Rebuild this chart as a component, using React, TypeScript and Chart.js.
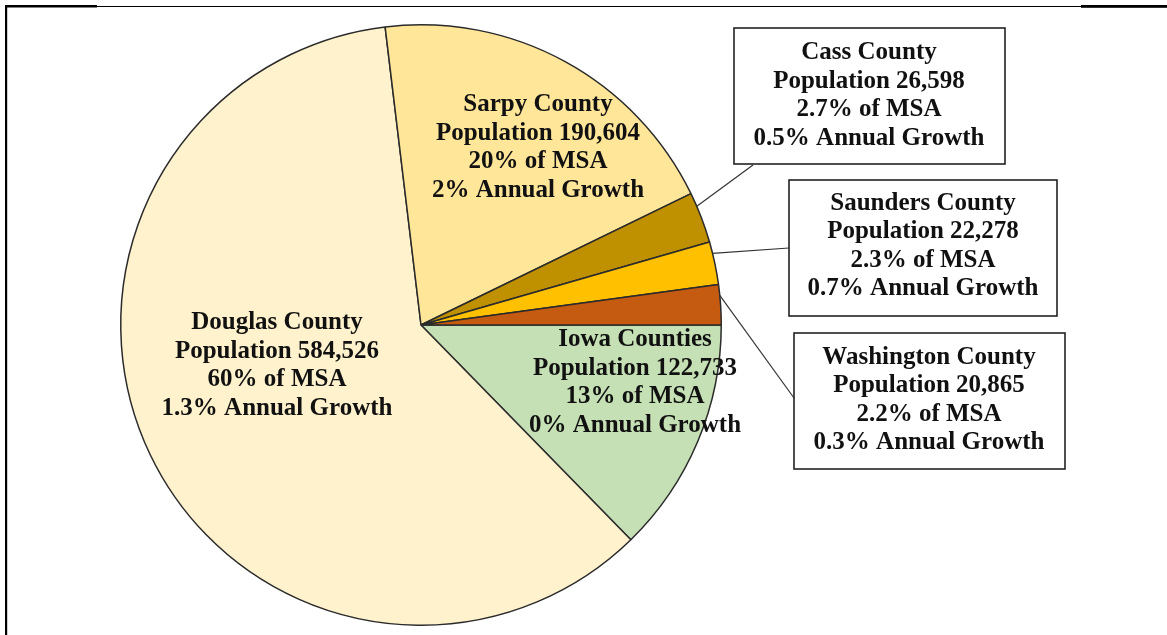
import React, { useEffect, useRef } from "react";
import { Chart, registerables } from "chart.js";

Chart.register(...registerables);

const counties = ["Iowa Counties", "Douglas County", "Sarpy County", "Cass County", "Saunders County", "Washington County"];
const population = [122733, 584526, 190604, 26598, 22278, 20865];
const shareOfMsa = ["13%", "60%", "20%", "2.7%", "2.3%", "2.2%"];
const annualGrowth = ["0%", "1.3%", "2%", "0.5%", "0.7%", "0.3%"];
const sliceColors = ["#C5E0B4", "#FFF2CC", "#FFE699", "#BF9000", "#FFC000", "#C55A11"];

// label layout: inside labels (no box) and boxed call-outs with leader lines
const labelCenters = [
  [635, 382.5],
  [277, 365.5],
  [538, 147.5],
  [869, 95.5],
  [923, 246],
  [929, 400],
];
const labelBoxes: (number[] | null)[] = [
  null,
  null,
  null,
  [734, 28, 1005, 164],
  [789, 180, 1057, 316],
  [794, 333, 1065, 469],
];
const leaderEnds: (number[] | null)[] = [null, null, null, [753, 165], [789, 248], [794, 398]];

const FONT = "bold 25px 'Liberation Serif', 'Times New Roman', serif";
const LINE_H = 28.5;

function labelLines(i: number): string[] {
  return [
    counties[i],
    "Population " + population[i].toLocaleString("en-US"),
    shareOfMsa[i] + " of MSA",
    annualGrowth[i] + " Annual Growth",
  ];
}

const labelPlugin = {
  id: "countyLabels",
  afterDraw(chart: any) {
    const ctx = chart.ctx as CanvasRenderingContext2D;
    const meta = chart.getDatasetMeta(0);
    ctx.save();
    // frame
    ctx.strokeStyle = "#000";
    ctx.lineWidth = 1.2;
    ctx.beginPath();
    ctx.moveTo(6, 6.5);
    ctx.lineTo(1167, 6.5);
    ctx.stroke();
    ctx.fillStyle = "#000";
    ctx.fillRect(5, 5, 92, 2.5);
    ctx.fillRect(1081, 5, 86, 2.8);
    ctx.fillRect(5, 5, 2.2, 630);

    meta.data.forEach((arc: any, i: number) => {
      const box = labelBoxes[i];
      const end = leaderEnds[i];
      if (box && end) {
        const a = arc.startAngle + 0.27 * (arc.endAngle - arc.startAngle);
        const sx = arc.x + Math.cos(a) * arc.outerRadius;
        const sy = arc.y + Math.sin(a) * arc.outerRadius;
        ctx.strokeStyle = "#333";
        ctx.lineWidth = 1.2;
        ctx.beginPath();
        ctx.moveTo(sx, sy);
        ctx.lineTo(end[0], end[1]);
        ctx.stroke();
        ctx.fillStyle = "#fff";
        ctx.fillRect(box[0], box[1], box[2] - box[0], box[3] - box[1]);
        ctx.strokeStyle = "#222";
        ctx.lineWidth = 1.6;
        ctx.strokeRect(box[0], box[1], box[2] - box[0], box[3] - box[1]);
      }
      const [cx, cy] = labelCenters[i];
      const lines = labelLines(i);
      ctx.font = FONT;
      ctx.fillStyle = "#111";
      ctx.textAlign = "center";
      ctx.textBaseline = "middle";
      lines.forEach((t, k) => {
        ctx.fillText(t, cx, cy + (k - 1.5) * LINE_H);
      });
    });
    ctx.restore();
  },
};

export default function App() {
  const ref = useRef<HTMLCanvasElement | null>(null);
  useEffect(() => {
    if (!ref.current) return;
    const chart = new Chart(ref.current, {
      type: "pie",
      data: {
        labels: counties,
        datasets: [
          {
            data: population,
            backgroundColor: sliceColors,
            borderColor: "#2b2b2b",
            borderWidth: 1.5,
          },
        ],
      },
      options: {
        responsive: false,
        animation: false,
        rotation: 90,
        layout: { padding: { left: 120, right: 445, top: 24, bottom: 9 } },
        plugins: {
          legend: { display: false },
          tooltip: { enabled: false },
        },
      },
      plugins: [labelPlugin],
    });
    return () => chart.destroy();
  }, []);
  return (
    <div style={{ position: "fixed", left: 0, top: 0, width: 1167, height: 635, background: "#fff" }}>
      <canvas ref={ref} width={1167} height={635} style={{ display: "block" }} />
    </div>
  );
}
